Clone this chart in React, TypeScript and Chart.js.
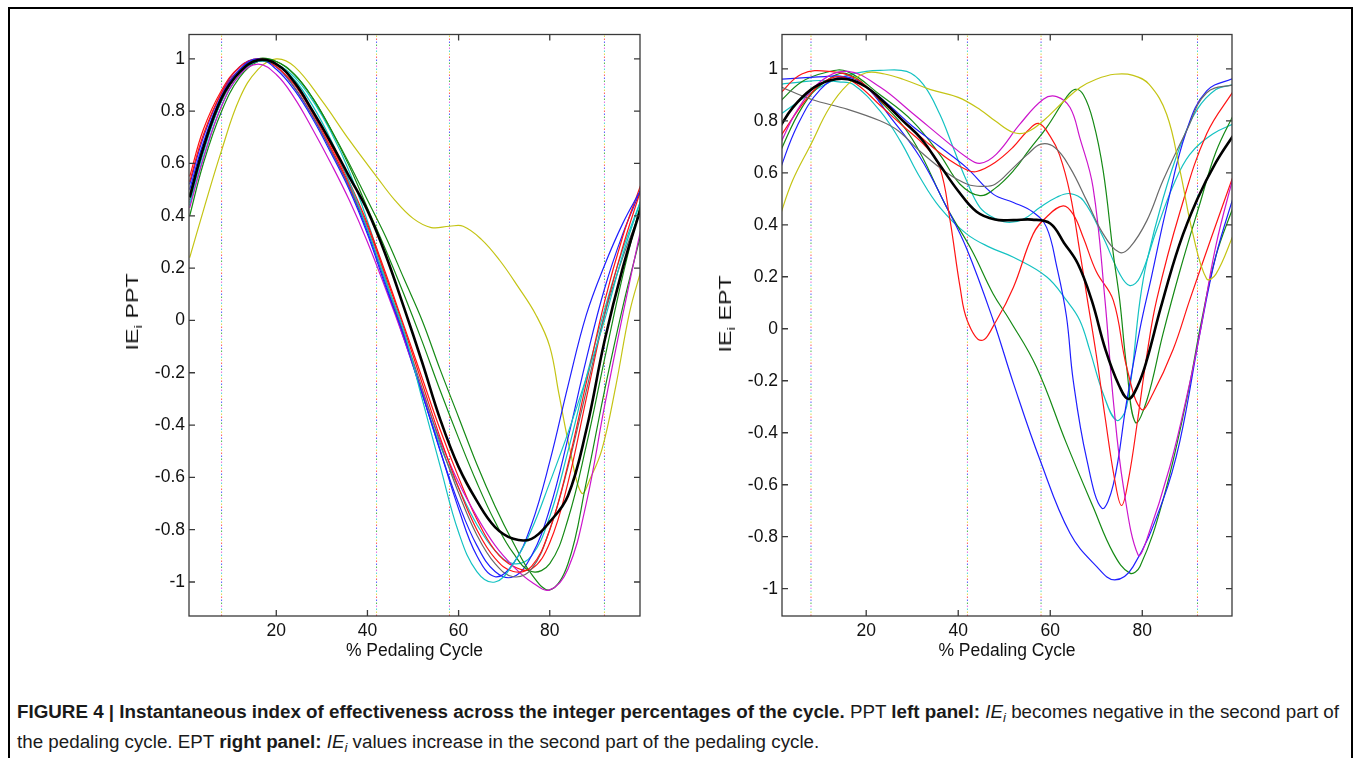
import React, { useEffect, useRef } from "react";
import { Chart, registerables } from "chart.js";
Chart.register(...registerables);

const FONT = '"Liberation Sans", Arial, Helvetica, sans-serif';

// ---------- axes ----------
const X_TICKS = [20, 40, 60, 80];
const Y_TICKS = [-1, -0.8, -0.6, -0.4, -0.2, 0, 0.2, 0.4, 0.6, 0.8, 1];
const EVENT_X = [8, 42, 58, 92];
const DOT_COLORS = ["#ff5a5a", "#5a5aff", "#4cb84c", "#e36ae3", "#4fd4d4", "#dcdc4a"];

const COL = {
  blue: "#1f1fff",
  green: "#158a15",
  red: "#ff1414",
  cyan: "#14c2c2",
  magenta: "#cc16cc",
  yellow: "#c4c414",
  gray: "#6a6a6a",
  black: "#000000",
};

// ---------- PPT (left panel) ----------
const pptX = [1, 4, 8, 12, 16, 20, 24, 28, 32, 36, 40, 44, 48, 52, 56, 60, 64, 68, 72, 76, 80, 84, 88, 92, 96, 100];
const pptBlack = [0.47, 0.66, 0.85, 0.95, 0.995, 0.98, 0.91, 0.8, 0.68, 0.55, 0.42, 0.25, 0.05, -0.16, -0.38, -0.56, -0.69, -0.79, -0.835, -0.835, -0.77, -0.67, -0.42, -0.08, 0.2, 0.43];
const pptCyan1 = [0.45, 0.64, 0.84, 0.95, 0.99, 0.98, 0.92, 0.82, 0.69, 0.53, 0.35, 0.15, -0.04, -0.3, -0.56, -0.81, -0.96, -1.0, -0.93, -0.8, -0.62, -0.43, -0.22, 0.0, 0.25, 0.46];
const pptCyan2 = [0.44, 0.62, 0.82, 0.94, 0.99, 0.98, 0.93, 0.84, 0.72, 0.57, 0.38, 0.16, -0.06, -0.28, -0.48, -0.64, -0.78, -0.88, -0.93, -0.9, -0.75, -0.5, -0.22, 0.04, 0.27, 0.46];
const pptBlue1 = [0.5, 0.68, 0.86, 0.96, 1.0, 0.96, 0.88, 0.77, 0.64, 0.5, 0.33, 0.13, -0.06, -0.28, -0.5, -0.72, -0.9, -0.98, -0.93, -0.78, -0.54, -0.25, 0.02, 0.21, 0.37, 0.5];
const pptBlue2 = [0.52, 0.7, 0.87, 0.97, 1.0, 0.97, 0.89, 0.78, 0.65, 0.51, 0.34, 0.14, -0.07, -0.28, -0.5, -0.7, -0.86, -0.96, -0.98, -0.9, -0.72, -0.45, -0.15, 0.12, 0.33, 0.5];
const pptGray = [0.46, 0.65, 0.84, 0.95, 0.99, 0.97, 0.89, 0.78, 0.65, 0.51, 0.35, 0.15, -0.05, -0.26, -0.47, -0.66, -0.82, -0.93, -0.98, -0.95, -0.8, -0.56, -0.27, 0.02, 0.24, 0.42];
const pptRed1 = [0.55, 0.73, 0.88, 0.97, 1.0, 0.97, 0.9, 0.79, 0.66, 0.52, 0.36, 0.17, -0.03, -0.24, -0.45, -0.64, -0.8, -0.91, -0.96, -0.94, -0.8, -0.55, -0.24, 0.07, 0.32, 0.52];
const pptRed2 = [0.53, 0.71, 0.87, 0.96, 1.0, 0.98, 0.91, 0.8, 0.67, 0.53, 0.37, 0.18, -0.02, -0.22, -0.42, -0.6, -0.76, -0.88, -0.94, -0.95, -0.85, -0.62, -0.3, 0.02, 0.28, 0.5];
const pptMagenta = [0.43, 0.62, 0.82, 0.94, 0.98, 0.94, 0.85, 0.73, 0.6, 0.46, 0.3, 0.12, -0.07, -0.27, -0.46, -0.62, -0.75, -0.86, -0.94, -1.0, -1.03, -0.95, -0.7, -0.33, 0.02, 0.35];
const pptGreen1 = [0.4, 0.6, 0.8, 0.93, 0.99, 0.99, 0.94, 0.85, 0.73, 0.6, 0.46, 0.32, 0.16, 0.0, -0.19, -0.37, -0.55, -0.71, -0.85, -0.97, -1.03, -0.93, -0.62, -0.27, 0.05, 0.33];
const pptGreen2 = [0.48, 0.66, 0.84, 0.95, 1.0, 0.99, 0.94, 0.85, 0.73, 0.59, 0.43, 0.27, 0.1, -0.08, -0.27, -0.45, -0.62, -0.77, -0.89, -0.96, -0.93, -0.76, -0.48, -0.15, 0.17, 0.45];
const pptYellowX = [1, 4, 8, 12, 16, 20, 24, 30, 36, 42, 46, 50, 54, 58, 61, 65, 69, 73, 77, 80, 82, 84.5, 87, 89, 91.5, 94.5, 97.5, 100];
const pptYellow = [0.24, 0.42, 0.65, 0.85, 0.96, 1.0, 0.97, 0.84, 0.69, 0.55, 0.46, 0.39, 0.355, 0.36, 0.36, 0.31, 0.23, 0.13, 0.02, -0.1, -0.28, -0.5, -0.66, -0.6, -0.49, -0.25, 0.03, 0.19];

// ---------- EPT (right panel) ----------
const eptBlackX = [1, 4, 8, 12, 16, 20, 24, 28, 32, 36, 40, 44, 48, 52, 56, 60, 63, 66, 69, 72, 75, 77, 79, 81, 84, 88, 92, 96, 100];
const eptBlack = [0.77, 0.85, 0.92, 0.955, 0.96, 0.93, 0.87, 0.8, 0.73, 0.63, 0.53, 0.45, 0.42, 0.418, 0.42, 0.405, 0.33, 0.25, 0.11, -0.08, -0.22, -0.27, -0.22, -0.12, 0.08, 0.32, 0.5, 0.64, 0.75];
const eptYellowX = [1, 4, 8, 12, 16, 20, 24, 28, 34, 40, 45, 48, 52, 55, 58.5, 63, 66.5, 70, 74, 78, 81.5, 85.3, 88.2, 91, 94, 96, 100];
const eptYellow = [0.42, 0.57, 0.71, 0.85, 0.94, 0.985, 0.98, 0.96, 0.92, 0.89, 0.84, 0.8, 0.755, 0.757, 0.8, 0.876, 0.928, 0.96, 0.979, 0.975, 0.94, 0.825, 0.608, 0.365, 0.192, 0.21, 0.37];
const eptGrayX = [1, 8, 16, 23, 27, 32, 37.5, 42, 45, 48, 52, 55, 58, 61, 64.3, 68, 71.5, 75, 77.3, 81, 84.5, 89.6, 94, 100];
const eptGray = [0.934, 0.883, 0.844, 0.8, 0.761, 0.678, 0.6, 0.556, 0.548, 0.556, 0.62, 0.67, 0.71, 0.697, 0.62, 0.49, 0.365, 0.294, 0.313, 0.416, 0.57, 0.761, 0.908, 0.94];
const eptMagentaX = [1, 5, 10, 16, 23, 30, 37.5, 41.8, 44.7, 48.3, 53.4, 58.5, 61.4, 64.3, 66.4, 69.3, 71.9, 73.7, 75.9, 79.1, 81, 86, 90.3, 92.5, 96, 100];
const eptMagenta = [0.7, 0.84, 0.95, 0.99, 0.93, 0.83, 0.72, 0.66, 0.636, 0.672, 0.787, 0.883, 0.893, 0.851, 0.736, 0.544, 0.109, -0.275, -0.608, -0.87, -0.81, -0.53, -0.21, -0.02, 0.32, 0.6];
const eptRedAX = [1, 6, 12, 18, 23, 28, 33, 38, 42, 44, 48, 52, 55, 57.5, 60, 62, 64.3, 66.4, 68, 70, 72, 74, 75.5, 77, 79, 81, 83.1, 88.2, 94, 100];
const eptRedA = [0.9, 0.98, 0.99, 0.96, 0.88, 0.8, 0.72, 0.65, 0.61, 0.605, 0.64, 0.7, 0.76, 0.79, 0.74, 0.67, 0.52, 0.3, 0.12, -0.1, -0.35, -0.58, -0.68, -0.58, -0.35, -0.1, 0.109, 0.45, 0.75, 0.92];
const eptRedBX = [1, 6, 10, 14, 18, 23, 28, 33, 36, 38.2, 40.4, 42, 45, 48.3, 52, 56.3, 59.2, 62.8, 65, 67.2, 70, 73.7, 76.6, 79.8, 82.3, 86.7, 90.3, 95, 100];
const eptRedB = [0.73, 0.86, 0.94, 0.97, 0.94, 0.86, 0.78, 0.7, 0.62, 0.42, 0.16, 0.03, -0.045, 0.032, 0.16, 0.365, 0.43, 0.473, 0.44, 0.35, 0.22, 0.109, -0.147, -0.31, -0.25, -0.08, 0.11, 0.35, 0.6];
const eptBlueAX = [1, 5, 10, 15, 20, 25, 31.7, 37.5, 41.8, 47.6, 52, 57.8, 64.3, 70.1, 74, 78, 84.5, 88.2, 92.5, 96, 100];
const eptBlueA = [0.6, 0.78, 0.92, 0.97, 0.93, 0.82, 0.66, 0.467, 0.31, 0.033, -0.21, -0.506, -0.787, -0.915, -0.966, -0.915, -0.659, -0.43, -0.02, 0.28, 0.52];
const eptBlueBX = [1, 6, 11, 15, 20, 25, 30, 36, 41.8, 47.6, 52, 56.3, 59.2, 61.4, 63.5, 65, 67.9, 71.2, 73.7, 76.6, 79.5, 82, 85.3, 89.6, 94, 100];
const eptBlueB = [0.96, 0.965, 0.97, 0.97, 0.93, 0.86, 0.78, 0.7, 0.62, 0.518, 0.486, 0.448, 0.39, 0.24, 0.05, -0.2, -0.5, -0.69, -0.6, -0.28, 0.0, 0.2, 0.467, 0.761, 0.915, 0.965];
const eptGreenAX = [1, 6, 11, 15.8, 23, 30, 36, 40.4, 44.7, 48, 52, 55.5, 59.2, 63.5, 65.4, 67.2, 69.3, 71.5, 73.7, 75.1, 76.6, 78.5, 81, 84.5, 88.2, 92.5, 96, 100];
const eptGreenA = [0.87, 0.95, 0.985, 0.99, 0.9, 0.8, 0.67, 0.556, 0.512, 0.54, 0.608, 0.69, 0.774, 0.89, 0.921, 0.9, 0.8, 0.608, 0.288, 0.109, -0.147, -0.36, -0.275, -0.02, 0.224, 0.48, 0.68, 0.83];
const eptGreenBX = [1, 6, 11, 16, 23, 30, 37.5, 43, 47.6, 51.2, 57, 63.5, 69.3, 73.7, 77.3, 79.5, 84.5, 89.6, 92.9, 96, 100];
const eptGreenB = [0.67, 0.85, 0.95, 0.98, 0.876, 0.73, 0.467, 0.3, 0.134, 0.033, -0.147, -0.44, -0.685, -0.863, -0.94, -0.915, -0.659, -0.275, 0.032, 0.28, 0.48];
const eptCyanAX = [1, 5, 10, 15, 20, 23, 28.8, 32.4, 36, 38.9, 41.8, 44.7, 47.6, 50.5, 54, 57.8, 61.4, 64.3, 67.2, 71.5, 75.1, 77.3, 79.5, 83.1, 86.7, 90.3, 95.4, 100];
const eptCyanA = [0.82, 0.87, 0.93, 0.97, 0.99, 0.994, 0.99, 0.94, 0.825, 0.697, 0.57, 0.467, 0.428, 0.41, 0.42, 0.467, 0.506, 0.52, 0.493, 0.352, 0.211, 0.166, 0.198, 0.38, 0.55, 0.67, 0.75, 0.79];
const eptCyanBX = [1, 6, 10, 14, 17.2, 23, 27.4, 31.7, 36, 41.8, 46.9, 52, 59.2, 63.5, 66.4, 68.6, 71.5, 74.4, 76.6, 79.5, 81, 84.5, 88.2, 91.8, 96, 100];
const eptCyanB = [0.94, 0.95, 0.955, 0.95, 0.94, 0.838, 0.723, 0.582, 0.467, 0.365, 0.313, 0.275, 0.2, 0.11, 0.033, -0.083, -0.25, -0.352, -0.3, 0.109, 0.26, 0.5, 0.7, 0.84, 0.92, 0.94];

type Series = { xs: number[]; ys: number[]; color: string; width: number };

const pptSeries: Series[] = [
  { xs: pptX, ys: pptBlack, color: COL.black, width: 2.6 },
  { xs: pptX, ys: pptCyan1, color: COL.cyan, width: 1.2 },
  { xs: pptX, ys: pptBlue1, color: COL.blue, width: 1.2 },
  { xs: pptX, ys: pptRed1, color: COL.red, width: 1.2 },
  { xs: pptX, ys: pptGray, color: COL.gray, width: 1.2 },
  { xs: pptX, ys: pptMagenta, color: COL.magenta, width: 1.2 },
  { xs: pptX, ys: pptGreen1, color: COL.green, width: 1.2 },
  { xs: pptX, ys: pptGreen2, color: COL.green, width: 1.2 },
  { xs: pptX, ys: pptRed2, color: COL.red, width: 1.2 },
  { xs: pptX, ys: pptBlue2, color: COL.blue, width: 1.2 },
  { xs: pptX, ys: pptCyan2, color: COL.cyan, width: 1.2 },
  { xs: pptYellowX, ys: pptYellow, color: COL.yellow, width: 1.2 },
];

const eptSeries: Series[] = [
  { xs: eptBlackX, ys: eptBlack, color: COL.black, width: 2.6 },
  { xs: eptYellowX, ys: eptYellow, color: COL.yellow, width: 1.2 },
  { xs: eptGrayX, ys: eptGray, color: COL.gray, width: 1.2 },
  { xs: eptMagentaX, ys: eptMagenta, color: COL.magenta, width: 1.2 },
  { xs: eptRedAX, ys: eptRedA, color: COL.red, width: 1.2 },
  { xs: eptRedBX, ys: eptRedB, color: COL.red, width: 1.2 },
  { xs: eptBlueAX, ys: eptBlueA, color: COL.blue, width: 1.2 },
  { xs: eptBlueBX, ys: eptBlueB, color: COL.blue, width: 1.2 },
  { xs: eptGreenAX, ys: eptGreenA, color: COL.green, width: 1.2 },
  { xs: eptGreenBX, ys: eptGreenB, color: COL.green, width: 1.2 },
  { xs: eptCyanAX, ys: eptCyanA, color: COL.cyan, width: 1.2 },
  { xs: eptCyanBX, ys: eptCyanB, color: COL.cyan, width: 1.2 },
];

const boxPlugin = {
  id: "matlabBox",
  afterDraw(chart: any) {
    const { ctx, chartArea: a, scales } = chart;
    ctx.save();
    ctx.strokeStyle = "#3a3a3a";
    ctx.lineWidth = 1.3;
    ctx.strokeRect(a.left, a.top, a.right - a.left, a.bottom - a.top);
    const L = 6;
    ctx.beginPath();
    for (const v of X_TICKS) {
      const p = scales.x.getPixelForValue(v);
      ctx.moveTo(p, a.bottom);
      ctx.lineTo(p, a.bottom - L);
      ctx.moveTo(p, a.top);
      ctx.lineTo(p, a.top + L);
    }
    for (const v of Y_TICKS) {
      const p = scales.y.getPixelForValue(v);
      ctx.moveTo(a.left, p);
      ctx.lineTo(a.left + L, p);
      ctx.moveTo(a.right, p);
      ctx.lineTo(a.right - L, p);
    }
    ctx.stroke();
    ctx.restore();
  },
};

type PanelProps = {
  left: number; top: number; width: number; height: number;
  yw: number; pr: number; pt: number; xh: number;
  xMin: number; xMax: number; yMin: number; yMax: number;
  series: Series[];
};

function Panel(p: PanelProps) {
  const ref = useRef<HTMLCanvasElement>(null);
  useEffect(() => {
    const n = DOT_COLORS.length;
    const events = DOT_COLORS.map((c, k) => ({
      data: EVENT_X.flatMap((x) => [
        { x, y: p.yMin },
        { x, y: p.yMax },
        { x, y: NaN },
      ]),
      borderColor: c,
      borderWidth: 1,
      borderDash: [1.5, 1.5 * (2 * n - 1)],
      borderDashOffset: 3 * k,
      pointRadius: 0,
      tension: 0,
      spanGaps: false,
      fill: false,
    }));
    const curves = p.series.map((s) => ({
      data: s.xs.map((x, i) => ({ x, y: s.ys[i] })),
      borderColor: s.color,
      borderWidth: s.width,
      pointRadius: 0,
      tension: 0.4,
      fill: false,
    }));
    const chart = new Chart(ref.current as HTMLCanvasElement, {
      type: "line",
      data: { datasets: [...curves, ...events] as any },
      options: {
        animation: false,
        responsive: false,
        events: [],
        layout: { padding: { top: p.pt, right: p.pr, left: 0, bottom: 0 } },
        plugins: { legend: { display: false }, tooltip: { enabled: false } },
        scales: {
          x: {
            type: "linear",
            min: p.xMin,
            max: p.xMax,
            grid: { display: false, drawTicks: false },
            border: { display: false },
            afterBuildTicks: (s: any) => {
              s.ticks = X_TICKS.map((v) => ({ value: v }));
            },
            afterFit: (s: any) => {
              s.height = p.xh;
            },
            ticks: {
              autoSkip: false,
              maxRotation: 0,
              padding: 5,
              color: "#111",
              font: { family: FONT, size: 17.5 },
              callback: (v: any) => String(v),
            },
            title: {
              display: true,
              text: "% Pedaling Cycle",
              color: "#111",
              font: { family: FONT, size: 17.5 },
              padding: { top: 0, bottom: 28.5 },
            },
          },
          y: {
            type: "linear",
            min: p.yMin,
            max: p.yMax,
            grid: { display: false, drawTicks: false },
            border: { display: false },
            afterBuildTicks: (s: any) => {
              s.ticks = Y_TICKS.map((v) => ({ value: v }));
            },
            afterFit: (s: any) => {
              s.width = p.yw;
            },
            ticks: {
              autoSkip: false,
              padding: 4,
              color: "#111",
              font: { family: FONT, size: 17.5 },
              callback: (v: any) => String(Math.round(Number(v) * 10) / 10),
            },
          },
        },
      } as any,
      plugins: [boxPlugin],
    });
    return () => chart.destroy();
  }, []);
  return (
    <canvas
      ref={ref}
      width={p.width}
      height={p.height}
      style={{ position: "absolute", left: p.left, top: p.top, width: p.width, height: p.height }}
    />
  );
}

function YTitle({ cx, cy, name }: { cx: number; cy: number; name: string }) {
  return (
    <div
      style={{
        position: "absolute",
        left: cx,
        top: cy,
        transform: "translate(-50%, -50%) rotate(-90deg) scaleX(1.45)",
        font: `16px ${FONT}`,
        lineHeight: 1,
        whiteSpace: "nowrap",
        color: "#111",
      }}
    >
      IE<span style={{ fontSize: 11, position: "relative", top: 4 }}>i</span> {name}
    </div>
  );
}

const subI = (
  <i>
    IE<span style={{ fontSize: "0.7em", position: "relative", top: "0.3em" }}>i</span>
  </i>
);

export default function App() {
  return (
    <div
      style={{
        position: "absolute",
        left: 0,
        top: 0,
        width: 1355,
        height: 758,
        overflow: "hidden",
        background: "#fff",
        fontFamily: FONT,
      }}
    >
      <div
        style={{
          position: "absolute",
          left: 8,
          top: 7,
          width: 1345,
          height: 800,
          border: "2px solid #000",
          boxSizing: "border-box",
        }}
      />
      <Panel left={100} top={20} width={560} height={670} yw={89} pr={20} pt={13} xh={74}
        xMin={0.85} xMax={99.8} yMin={-1.13} yMax={1.093} series={pptSeries} />
      <Panel left={693} top={20} width={560} height={670} yw={89} pr={21} pt={13} xh={74}
        xMin={1.7} xMax={99.5} yMin={-1.105} yMax={1.132} series={eptSeries} />
      <YTitle cx={133} cy={312} name="PPT" />
      <YTitle cx={726} cy={314} name="EPT" />
      <div
        style={{
          position: "absolute",
          left: 17,
          top: 698,
          font: `18.8px ${FONT}`,
          lineHeight: "28px",
          color: "#1a1a1a",
          whiteSpace: "nowrap",
        }}
      >
        <b>FIGURE 4 | Instantaneous index of effectiveness across the integer percentages of the cycle.</b> PPT{" "}
        <b>left panel:</b> {subI} becomes negative in the second part of
        <br />
        the pedaling cycle. EPT <b>right panel:</b> {subI} values increase in the second part of the pedaling cycle.
      </div>
    </div>
  );
}
